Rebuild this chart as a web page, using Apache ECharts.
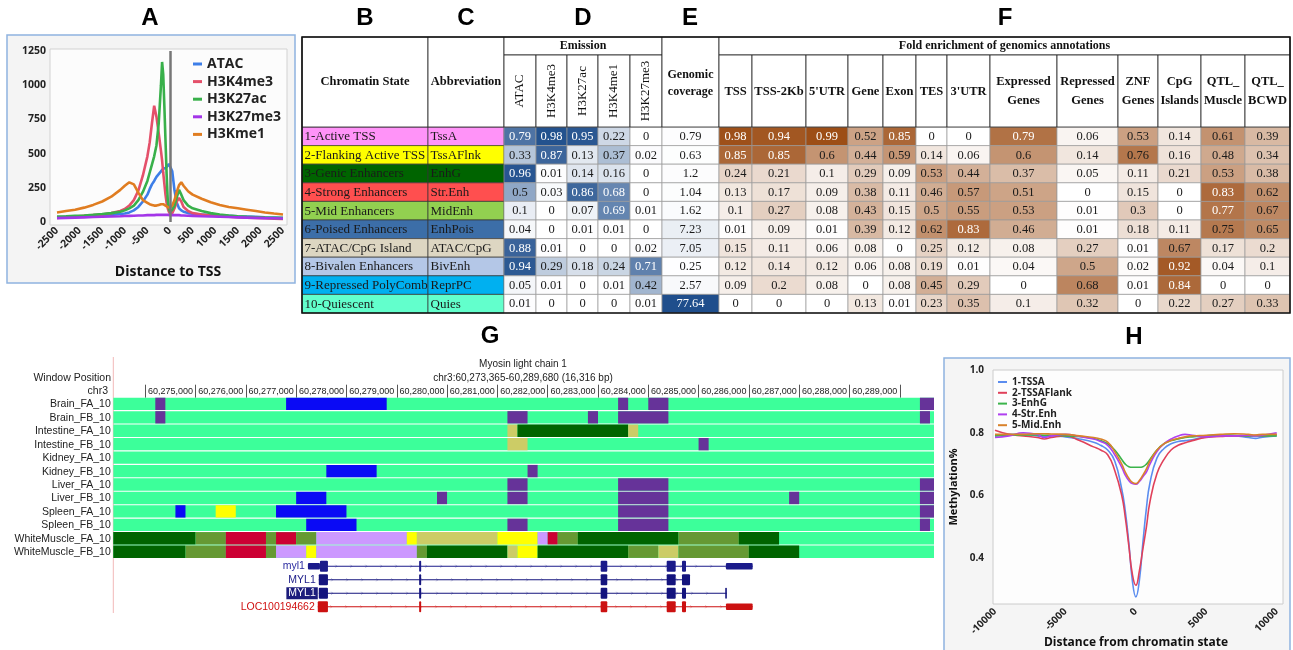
<!DOCTYPE html>
<html>
<head>
<meta charset="utf-8">
<title>Chromatin states</title>
<script src="https://cdn.jsdelivr.net/npm/echarts@6.0.0/dist/echarts.min.js"></script>
<style>
html,body{margin:0;padding:0;background:#ffffff;}
#chart{width:1293px;height:650px;}
</style>
</head>
<body>
<div id="chart"></div>
<script>
// ================= Panel A : signal around TSS =================
const posA = [-2500,-2300,-2100,-1900,-1700,-1500,-1300,-1100,-1000,-900,-800,-700,-600,-500,-450,-400,-350,-300,-250,-200,-175,-150,-125,-100,-75,-50,-25,0,50,100,150,200,250,300,400,500,700,900,1100,1300,1500,1700,1900,2100,2300,2500];
const atacA = [35,38,40,42,45,48,52,58,62,70,85,110,150,200,240,275,300,330,350,370,380,390,392,395,400,410,425,430,370,230,140,100,85,75,65,60,55,50,48,45,42,40,38,35,33,30];
const h3k4me3A = [30,35,40,45,50,55,65,80,95,120,160,230,340,480,580,720,850,770,650,520,450,360,280,200,140,100,75,60,65,100,150,175,150,110,80,65,55,48,42,38,35,32,30,28,25,22];
const h3k27acA = [40,42,45,48,52,58,65,75,85,100,120,160,220,300,360,420,480,560,720,1000,1170,1080,850,600,350,160,100,75,90,120,180,235,200,160,120,100,80,65,55,48,42,38,35,32,30,28];
const h3k27me3A = [28,30,32,34,36,38,40,42,44,45,46,47,48,50,50,50,50,52,52,52,52,52,52,52,52,52,50,50,50,50,50,50,48,48,46,45,42,40,38,36,34,32,30,28,27,26];
const h3kme1A = [70,80,90,105,125,150,185,235,265,290,275,215,160,140,130,125,120,120,125,130,130,130,125,120,115,110,105,105,120,160,220,270,290,265,225,200,170,145,125,110,100,90,80,70,62,55];
const namesA = ['ATAC','H3K4me3','H3K27ac','H3K27me3','H3Kme1'];

// ================= Panels B-F : chromatin state table =================
const states = ['1-Active TSS','2-Flanking Active TSS','3-Genic Enhancers','4-Strong Enhancers','5-Mid Enhancers','6-Poised Enhancers','7-ATAC/CpG Island','8-Bivalen Enhancers','9-Repressed PolyComb','10-Quiescent'];
const abbrevs = ['TssA','TssAFlnk','EnhG','Str.Enh','MidEnh','EnhPois','ATAC/CpG','BivEnh','ReprPC','Quies'];
const emissionMarks = ['ATAC','H3K4me3','H3K27ac','H3K4me1','H3K27me3'];
const emATAC = [0.79,0.33,0.96,0.5,0.1,0.04,0.88,0.94,0.05,0.01];
const emH3K4me3 = [0.98,0.87,0.01,0.03,0,0,0.01,0.29,0.01,0];
const emH3K27ac = [0.95,0.13,0.14,0.86,0.07,0.01,0,0.18,0,0];
const emH3K4me1 = [0.22,0.37,0.16,0.68,0.69,0.01,0,0.24,0.01,0];
const emH3K27me3 = [0,0.02,0,0,0.01,0,0.02,0.71,0.42,0.01];
const genomicCoverage = [0.79,0.63,1.2,1.04,1.62,7.23,7.05,0.25,2.57,77.64];
const annotNames = ['TSS','TSS-2Kb',"5'UTR",'Gene','Exon','TES',"3'UTR",'Expressed\nGenes','Repressed\nGenes','ZNF\nGenes','CpG\nIslands','QTL_\nMuscle','QTL_\nBCWD'];
const feTSS = [0.98,0.85,0.24,0.13,0.1,0.01,0.15,0.12,0.09,0];
const feTSS2Kb = [0.94,0.85,0.21,0.17,0.27,0.09,0.11,0.14,0.2,0];
const fe5UTR = [0.99,0.6,0.1,0.09,0.08,0.01,0.06,0.12,0.08,0];
const feGene = [0.52,0.44,0.29,0.38,0.43,0.39,0.08,0.06,0,0.13];
const feExon = [0.85,0.59,0.09,0.11,0.15,0.12,0,0.08,0.08,0.01];
const feTES = [0,0.14,0.53,0.46,0.5,0.62,0.25,0.19,0.45,0.23];
const fe3UTR = [0,0.06,0.44,0.57,0.55,0.83,0.12,0.01,0.29,0.35];
const feExpressed = [0.79,0.6,0.37,0.51,0.53,0.46,0.08,0.04,0,0.1];
const feRepressed = [0.06,0.14,0.05,0,0.01,0.01,0.27,0.5,0.68,0.32];
const feZNF = [0.53,0.76,0.11,0.15,0.3,0.18,0.01,0.02,0.01,0];
const feCpG = [0.14,0.16,0.21,0,0,0.11,0.67,0.92,0.84,0.22];
const feQTLMuscle = [0.61,0.48,0.53,0.83,0.77,0.75,0.17,0.04,0,0.27];
const feQTLBCWD = [0.39,0.34,0.38,0.62,0.67,0.65,0.2,0.1,0,0.33];

// ================= Panel G : genome browser =================
const gWindow = [60273365, 60289680];
const gTickValues = [60274000,60275000,60276000,60277000,60278000,60279000,60280000,60281000,60282000,60283000,60284000,60285000,60286000,60287000,60288000,60289000];
const gLabelValues = [60275000,60276000,60277000,60278000,60279000,60280000,60281000,60282000,60283000,60284000,60285000,60286000,60287000,60288000,60289000];
const trackNames = ['Brain_FA_10','Brain_FB_10','Intestine_FA_10','Intestine_FB_10','Kidney_FA_10','Kidney_FB_10','Liver_FA_10','Liver_FB_10','Spleen_FA_10','Spleen_FB_10','WhiteMuscle_FA_10','WhiteMuscle_FB_10'];
// segment = [start, end, state] ; states: P purple, B blue, Y yellow, D dark green, O olive, R red, L lavender, K khaki (background = quiescent)
const trackBrainFA = [[60274200,60274400,'P'],[60276800,60278800,'B'],[60283400,60283600,'P'],[60284000,60284400,'P'],[60289400,60289680,'P']];
const trackBrainFB = [[60274200,60274400,'P'],[60281200,60281600,'P'],[60282800,60283000,'P'],[60283400,60284400,'P'],[60289400,60289600,'P']];
const trackIntestineFA = [[60281200,60281400,'K'],[60281400,60283600,'D'],[60283600,60283800,'K']];
const trackIntestineFB = [[60281200,60281600,'K'],[60285000,60285200,'P']];
const trackKidneyFA = [];
const trackKidneyFB = [[60277600,60278600,'B'],[60281600,60281800,'P']];
const trackLiverFA = [[60281200,60281600,'P'],[60283400,60284400,'P'],[60289400,60289680,'P']];
const trackLiverFB = [[60277000,60277600,'B'],[60279800,60280000,'P'],[60281200,60281600,'P'],[60283400,60284400,'P'],[60286800,60287000,'P'],[60289400,60289680,'P']];
const trackSpleenFA = [[60274600,60274800,'B'],[60275400,60275800,'Y'],[60276600,60278000,'B'],[60283400,60284400,'P'],[60289400,60289680,'P']];
const trackSpleenFB = [[60277200,60278200,'B'],[60281200,60281600,'P'],[60283400,60284400,'P'],[60289400,60289600,'P']];
const trackMuscleFA = [[60273365,60275000,'D'],[60275000,60275600,'O'],[60275600,60276400,'R'],[60276400,60276600,'O'],[60276600,60277000,'R'],[60277000,60277400,'O'],[60277400,60279200,'L'],[60279200,60279400,'Y'],[60279400,60281000,'K'],[60281000,60281800,'Y'],[60281800,60282000,'L'],[60282000,60282200,'R'],[60282200,60282600,'O'],[60282600,60284600,'D'],[60284600,60285800,'O'],[60285800,60286600,'D']];
const trackMuscleFB = [[60273365,60274800,'D'],[60274800,60275600,'O'],[60275600,60276400,'R'],[60276400,60276600,'O'],[60276600,60277200,'L'],[60277200,60277400,'Y'],[60277400,60279400,'L'],[60279400,60279600,'O'],[60279600,60281200,'D'],[60281200,60281400,'K'],[60281400,60281800,'Y'],[60281800,60283600,'D'],[60283600,60284200,'O'],[60284200,60284600,'K'],[60284600,60286000,'O'],[60286000,60287000,'D']];
const txNames = ['myl1','MYL1','MYL1','LOC100194662'];
const txStart = [60277234,60277450,60277450,60277430];
const txEnd = [60286075,60284830,60285560,60286075];
// exon = [start, end, coding(1)/utr(0)]
const txExonsMyl1 = [[60277234,60277473,0],[60277473,60277632,1],[60279445,60279485,1],[60283054,60283185,1],[60284366,60284545,1],[60284670,60284750,1],[60285544,60286075,0]];
const txExonsMYL1a = [[60277450,60277632,1],[60279445,60279485,1],[60283054,60283185,1],[60284366,60284545,1],[60284670,60284830,1]];
const txExonsMYL1b = [[60277450,60277632,1],[60279445,60279485,1],[60283054,60283185,1],[60284366,60284545,1],[60284670,60284750,1],[60285530,60285560,1]];
const txExonsLOC = [[60277430,60277632,1],[60279445,60279485,1],[60283054,60283185,1],[60284366,60284545,1],[60284670,60284750,1],[60285544,60286075,0]];

// ================= Panel H : methylation around states =================
const posH = [-10000,-9000,-8000,-7000,-6500,-6000,-5000,-4000,-3000,-2500,-2000,-1500,-1000,-750,-500,-250,0,250,500,750,1000,1500,2000,2500,3000,3500,4000,5000,6000,7000,8000,8500,9000,10000];
const tssaH = [0.790,0.795,0.795,0.790,0.788,0.790,0.787,0.780,0.770,0.760,0.745,0.710,0.620,0.550,0.450,0.330,0.277,0.330,0.450,0.560,0.640,0.720,0.750,0.765,0.772,0.775,0.778,0.787,0.790,0.790,0.785,0.782,0.786,0.790];
const tssaFlankH = [0.808,0.795,0.790,0.785,0.780,0.785,0.790,0.775,0.755,0.745,0.730,0.680,0.600,0.530,0.440,0.350,0.314,0.360,0.430,0.500,0.580,0.670,0.715,0.745,0.760,0.768,0.775,0.785,0.788,0.790,0.790,0.792,0.790,0.795];
const enhGH = [0.790,0.792,0.793,0.793,0.792,0.792,0.790,0.788,0.782,0.775,0.765,0.745,0.715,0.700,0.692,0.690,0.690,0.690,0.692,0.700,0.715,0.745,0.765,0.775,0.780,0.785,0.787,0.790,0.793,0.792,0.790,0.790,0.790,0.790];
const strEnhH = [0.785,0.790,0.800,0.795,0.785,0.790,0.795,0.788,0.780,0.772,0.760,0.730,0.690,0.665,0.648,0.638,0.636,0.645,0.660,0.675,0.700,0.740,0.765,0.780,0.790,0.795,0.792,0.787,0.790,0.790,0.792,0.790,0.792,0.800];
const midEnhH = [0.795,0.795,0.795,0.797,0.797,0.796,0.795,0.790,0.785,0.780,0.770,0.740,0.700,0.675,0.655,0.642,0.638,0.648,0.665,0.685,0.710,0.745,0.765,0.775,0.782,0.787,0.790,0.792,0.795,0.797,0.795,0.793,0.795,0.795];
const namesH = ['1-TSSA','2-TSSAFlank','3-EnhG','4-Str.Enh','5-Mid.Enh'];
const hTicksX = [-10000,-5000,0,5000,10000];
const hTicksY = [0.4,0.6,0.8,1.0];

// ================= styling / layout =================
const colorsA = ['#3d7ee8','#e4506a','#38b04a','#a335e8','#e07d21'];
const colorsH = ['#5b8def','#e0405a','#3cb44b','#b040f0','#d9822b'];
const stateColors = ['#ff93f8','#ffff00','#006400','#ff4f4f','#92d050','#3c6ea8','#ddd6c2','#b4c7e7','#00b0f0','#62ffcc'];
const gStateColors = {Q:'#3cff9a',P:'#663399',B:'#0a0af5',Y:'#ffff00',D:'#006400',O:'#669933',R:'#cc0033',L:'#cc99ff',K:'#cccc66'};
const gStateCodes = ['Q','P','B','Y','D','O','R','L','K'];
const blueEnd = [31,78,140];
const brownEnd = [156,76,20];
const colEdges = [0,126,202,234,265,296,328,360,417,450,504,546,581,614,645,688,755,816,856,899,943,988];
const T_LEFT = 302, T_TOP = 37, T_MID = 55, T_BODY = 127, T_BOTTOM = 313;
const SERIF = '"Liberation Serif","DejaVu Serif",serif';
const SANS = '"Liberation Sans",Arial,sans-serif';
const OPEN = '"Open Sans","Liberation Sans",sans-serif';

function mixColor(end, t){
  t = Math.max(0, Math.min(1, t));
  const r = Math.round(255 + (end[0]-255)*t), g = Math.round(255 + (end[1]-255)*t), b = Math.round(255 + (end[2]-255)*t);
  return 'rgb(' + r + ',' + g + ',' + b + ')';
}

const emissionCols = [emATAC, emH3K4me3, emH3K27ac, emH3K4me1, emH3K27me3];
const foldCols = [feTSS, feTSS2Kb, fe5UTR, feGene, feExon, feTES, fe3UTR, feExpressed, feRepressed, feZNF, feCpG, feQTLMuscle, feQTLBCWD];
const tableValues = [states, abbrevs].concat(emissionCols, [genomicCoverage], foldCols);
const tableKinds = ['label','label'].concat(emissionCols.map(()=> 'emis'), ['cov'], foldCols.map(()=> 'fold'));
const covMax = Math.max.apply(null, genomicCoverage);
const tableData = [];
for (let c = 0; c < tableValues.length; c++) for (let r = 0; r < states.length; r++) tableData.push([c, r]);

function renderTable(params, api){
  const c = api.value(0), r = api.value(1);
  const kind = tableKinds[c];
  const v = tableValues[c][r];
  const pL = api.coord([colEdges[c], r]);
  const pR = api.coord([colEdges[c+1], r]);
  const h = api.size([0, 1])[1];
  let fill = '#ffffff', color = '#1a1a1a', align = 'center', tx = (pL[0]+pR[0])/2;
  let font = '12.5px ' + SERIF, stroke = '#9a9a9a';
  if (kind === 'label') { fill = stateColors[r]; align = 'left'; tx = pL[0] + 2.5; font = '13px ' + SERIF; stroke = '#333'; }
  else if (kind === 'emis') { fill = mixColor(blueEnd, v); if (v >= 0.6) color = '#ffffff'; }
  else if (kind === 'cov') { const t = v / covMax; fill = mixColor(blueEnd, t); if (t >= 0.6) color = '#ffffff'; }
  else { fill = mixColor(brownEnd, v); if (v >= 0.765) color = '#ffffff'; }
  return {type:'group', children:[
    {type:'rect', shape:{x:pL[0], y:pL[1]-h/2, width:pR[0]-pL[0], height:h}, style:{fill:fill, stroke:stroke, lineWidth:0.7}},
    {type:'text', x:tx, y:pL[1]+0.5, style:{text:String(v), textAlign:align, align:align, textVerticalAlign:'middle', verticalAlign:'middle', font:font, fill:color}}
  ]};
}

// ---- tracks ----
const trackSegs = [trackBrainFA, trackBrainFB, trackIntestineFA, trackIntestineFB, trackKidneyFA, trackKidneyFB, trackLiverFA, trackLiverFB, trackSpleenFA, trackSpleenFB, trackMuscleFA, trackMuscleFB];
const trackData = [];
trackSegs.forEach(function(segs, t){
  trackData.push([gWindow[0], gWindow[1], t, 0]);
  segs.forEach(function(s){ trackData.push([s[0], s[1], t, gStateCodes.indexOf(s[2])]); });
});
function renderTrack(params, api){
  const s = api.value(0), e = api.value(1), t = api.value(2), k = api.value(3);
  const p0 = api.coord([s, t]), p1 = api.coord([e, t]);
  const h = api.size([0, 1])[1];
  return {type:'rect', shape:{x:p0[0], y:p0[1]-h/2, width:p1[0]-p0[0], height:h-1.1}, style:{fill:gStateColors[gStateCodes[k]]}};
}

// ---- genes ----
const txExons = [txExonsMyl1, txExonsMYL1a, txExonsMYL1b, txExonsLOC];
const txColors = ['#1b1b8a','#14147e','#14147e','#cc1111'];
const txLabelColors = ['#2a2aa0','#1c1c88','#ffffff','#d01010'];
const geneData = txNames.map(function(n, i){ return [txStart[i], txEnd[i], i]; });
function renderGene(params, api){
  const i = api.value(2);
  const a = api.coord([txStart[i], i]);
  const b = api.coord([txEnd[i], i]);
  const y = a[1];
  const col = txColors[i];
  const children = [];
  children.push({type:'line', shape:{x1:a[0], y1:y, x2:b[0], y2:y}, style:{stroke:col, lineWidth:1}});
  for (let x = a[0] + 14; x < b[0] - 6; x += 15) {
    children.push({type:'polyline', shape:{points:[[x-1.5, y-1.5],[x, y],[x-1.5, y+1.5]]}, style:{stroke:col, lineWidth:0.6, fill:null, opacity:0.5}});
  }
  txExons[i].forEach(function(ex){
    const p0 = api.coord([ex[0], i])[0], p1 = api.coord([ex[1], i])[0];
    const hh = ex[2] === 1 ? 11 : 6.5;
    children.push({type:'rect', shape:{x:p0, y:y-hh/2, width:Math.max(1.6, p1-p0), height:hh, r:1}, style:{fill:col}});
  });
  const lbl = {type:'text', x:a[0]-3, y:y, style:{text:txNames[i], textAlign:'right', align:'right', textVerticalAlign:'middle', verticalAlign:'middle', font:'10.5px ' + SANS, fill:txLabelColors[i]}};
  if (i === 2) { lbl.style.backgroundColor = '#1c1c7c'; lbl.style.padding = [1,2,0,2]; lbl.x = a[0]-1; }
  children.push(lbl);
  return {type:'group', children:children};
}

// ---- graphic decorations (panel frames, headers, titles) ----
const gfx = [];
function txt(x, y, text, font, opts){
  const o = opts || {};
  return {type:'text', x:x, y:y, z:o.z || 20, rotation:o.rotation || 0,
    style:{text:text, font:font, fill:o.fill || '#111', textAlign:o.align || 'center', align:o.align || 'center', textVerticalAlign:'middle', verticalAlign:'middle'}};
}
// Panel A frame
gfx.push({type:'rect', z:0, shape:{x:7, y:35, width:288, height:248}, style:{fill:'#f4f4f4', stroke:'#8fb3e0', lineWidth:1.5}});
gfx.push({type:'rect', z:0, shape:{x:50, y:49, width:237, height:176}, style:{fill:'#fcfcfc', stroke:'#d2d2d2', lineWidth:1}});
gfx.push(txt(168, 272, 'Distance to TSS', 'bold 14px ' + OPEN));
// Panel H frame
gfx.push({type:'rect', z:0, shape:{x:944, y:358, width:346, height:300}, style:{fill:'#f5f5f5', stroke:'#8fb3e0', lineWidth:1.5}});
gfx.push({type:'rect', z:0, shape:{x:993, y:370, width:290, height:234}, style:{fill:'#fdfdfd', stroke:'#cccccc', lineWidth:1}});
gfx.push(txt(1136, 643, 'Distance from chromatin state', 'bold 12px ' + OPEN));
gfx.push(txt(954, 487, 'Methylation%', 'bold 11px ' + OPEN, {rotation:Math.PI/2}));
// Panel letters
[['A',150,18],['B',365,18],['C',466,18],['D',583,18],['E',690,18],['F',1005,18],['G',490,336],['H',1134,337]].forEach(function(L){
  gfx.push(txt(L[1], L[2], L[0], 'bold 24px ' + SANS, {fill:'#000'}));
});
// Table headers
const X = function(i){ return T_LEFT + colEdges[i]; };
function hcell(x0, y0, x1, y1){ return {type:'rect', z:5, shape:{x:x0, y:y0, width:x1-x0, height:y1-y0}, style:{fill:'#ffffff', stroke:'#222', lineWidth:0.8}}; }
gfx.push(hcell(X(0), T_TOP, X(1), T_BODY));
gfx.push(txt((X(0)+X(1))/2, 82, 'Chromatin State', 'bold 12.5px ' + SERIF));
gfx.push(hcell(X(1), T_TOP, X(2), T_BODY));
gfx.push(txt((X(1)+X(2))/2, 82, 'Abbreviation', 'bold 12.5px ' + SERIF));
gfx.push(hcell(X(2), T_TOP, X(7), T_MID));
gfx.push(txt((X(2)+X(7))/2, 46, 'Emission', 'bold 12px ' + SERIF));
emissionMarks.forEach(function(m, k){
  gfx.push(hcell(X(2+k), T_MID, X(3+k), T_BODY));
  gfx.push(txt((X(2+k)+X(3+k))/2, 91, m, '13px ' + SERIF, {rotation:Math.PI/2}));
});
gfx.push(hcell(X(7), T_TOP, X(8), T_BODY));
gfx.push(txt((X(7)+X(8))/2, 75, 'Genomic', 'bold 12px ' + SERIF));
gfx.push(txt((X(7)+X(8))/2, 92, 'coverage', 'bold 12px ' + SERIF));
gfx.push(hcell(X(8), T_TOP, X(21), T_MID));
gfx.push(txt((X(8)+X(21))/2, 46, 'Fold enrichment of genomics annotations', 'bold 12px ' + SERIF));
annotNames.forEach(function(n, k){
  gfx.push(hcell(X(8+k), T_MID, X(9+k), T_BODY));
  const parts = n.split('\n');
  const cx = (X(8+k)+X(9+k))/2;
  if (parts.length === 1) gfx.push(txt(cx, 92, parts[0], 'bold 12.5px ' + SERIF));
  else { gfx.push(txt(cx, 82, parts[0], 'bold 12.5px ' + SERIF)); gfx.push(txt(cx, 100.5, parts[1], 'bold 12.5px ' + SERIF)); }
});
gfx.push({type:'rect', z:30, shape:{x:T_LEFT, y:T_TOP, width:colEdges[21], height:T_BOTTOM-T_TOP}, style:{fill:null, stroke:'#111', lineWidth:1.6}});
// Panel G texts
gfx.push(txt(111, 378, 'Window Position', '10.5px ' + SANS, {align:'right', fill:'#222'}));
gfx.push(txt(108, 391, 'chr3', '10.5px ' + SANS, {align:'right', fill:'#222'}));
gfx.push(txt(523, 364, 'Myosin light chain 1', '10px ' + SANS, {fill:'#222'}));
gfx.push(txt(523, 378, 'chr3:60,273,365-60,289,680 (16,316 bp)', '10px ' + SANS, {fill:'#222'}));
gfx.push({type:'line', z:1, shape:{x1:113.3, y1:357, x2:113.3, y2:613}, style:{stroke:'#f2b8b8', lineWidth:1}});

function commas(v){ return String(Math.round(v)).replace(/\B(?=(\d{3})+(?!\d))/g, ','); }
function plain(v){ return String(v); }
const boldLbl = {fontFamily: OPEN, fontWeight:'bold', color:'#222'};

const option = {
  animation: false,
  backgroundColor: '#ffffff',
  textStyle: {fontFamily: OPEN},
  graphic: {elements: gfx},
  legend: [
    {data: namesA, left: 188, top: 52, orient: 'vertical', itemGap: 3.6, itemWidth: 9, itemHeight: 3, icon: 'rect',
     textStyle: {fontSize: 14, fontWeight: 'bold', color: '#222', fontFamily: OPEN}},
    {data: namesH, left: 993, top: 372, orient: 'vertical', itemGap: 0.8, itemWidth: 9, itemHeight: 2, icon: 'rect',
     textStyle: {fontSize: 10, fontWeight: 'bold', color: '#222', fontFamily: OPEN}}
  ],
  grid: [
    {left: 57, top: 51, width: 226, height: 171},
    {left: T_LEFT, top: T_BODY, width: colEdges[21], height: T_BOTTOM - T_BODY},
    {left: 113.3, top: 397.7, width: 820.7, height: 161.3},
    {left: 113.3, top: 559.5, width: 820.7, height: 54},
    {left: 993, top: 370, width: 290, height: 234}
  ],
  xAxis: [
    {gridIndex: 0, type: 'value', min: -2500, max: 2500, interval: 500, axisLine: {show: false}, axisTick: {show: false}, splitLine: {show: false},
     axisLabel: Object.assign({rotate: 45, fontSize: 10.5, margin: 7, formatter: plain}, boldLbl)},
    {gridIndex: 1, type: 'value', min: 0, max: colEdges[21], show: false},
    {gridIndex: 2, type: 'value', position: 'top', min: gWindow[0], max: gWindow[1], axisLine: {show: false}, splitLine: {show: false},
     axisTick: {show: true, customValues: gTickValues, length: 13, lineStyle: {color: '#555', width: 1}},
     axisLabel: {customValues: gLabelValues, formatter: commas, align: 'right', verticalAlign: 'middle', margin: 6.5, padding: [0, 2.5, 0, 0], fontSize: 9, color: '#222', fontFamily: SANS}},
    {gridIndex: 3, type: 'value', min: gWindow[0], max: gWindow[1], show: false},
    {gridIndex: 4, type: 'value', min: -10142, max: 10447, axisLine: {show: false}, axisTick: {show: false}, splitLine: {show: false},
     axisLabel: Object.assign({customValues: hTicksX, rotate: 45, fontSize: 10, margin: 6, formatter: plain}, boldLbl)}
  ],
  yAxis: [
    {gridIndex: 0, type: 'value', min: 0, max: 1250, interval: 250, axisLine: {show: false}, axisTick: {show: false}, splitLine: {show: false},
     axisLabel: Object.assign({fontSize: 10.5, margin: 11, formatter: plain}, boldLbl)},
    {gridIndex: 1, type: 'category', data: states, inverse: true, show: false},
    {gridIndex: 2, type: 'category', data: trackNames, inverse: true, axisLine: {show: false}, axisTick: {show: false},
     axisLabel: {interval: 0, fontSize: 10.5, color: '#222', margin: 2.5, fontFamily: SANS}},
    {gridIndex: 3, type: 'category', data: txNames.map(function(n, i){ return n + i; }), inverse: true, show: false},
    {gridIndex: 4, type: 'value', min: 0.2544, max: 1.0, axisLine: {show: false}, axisTick: {show: false}, splitLine: {show: false},
     axisLabel: Object.assign({customValues: hTicksY, fontSize: 10, margin: 9, formatter: function(v){ return v.toFixed(1); }}, boldLbl)}
  ],
  series: [
    {name: 'ATAC', type: 'line', xAxisIndex: 0, yAxisIndex: 0, showSymbol: false, color: colorsA[0], lineStyle: {width: 2.6},
     data: posA.map(function(x, i){ return [x, atacA[i]]; }),
     markLine: {silent: true, symbol: ['none', 'none'], label: {show: false}, lineStyle: {color: '#777', width: 2.5, type: 'solid'}, data: [{xAxis: 0}]}},
    {name: 'H3K4me3', type: 'line', xAxisIndex: 0, yAxisIndex: 0, showSymbol: false, color: colorsA[1], lineStyle: {width: 2.6},
     data: posA.map(function(x, i){ return [x, h3k4me3A[i]]; })},
    {name: 'H3K27ac', type: 'line', xAxisIndex: 0, yAxisIndex: 0, showSymbol: false, color: colorsA[2], lineStyle: {width: 2.6},
     data: posA.map(function(x, i){ return [x, h3k27acA[i]]; })},
    {name: 'H3K27me3', type: 'line', xAxisIndex: 0, yAxisIndex: 0, showSymbol: false, color: colorsA[3], lineStyle: {width: 2.6}, z: 4,
     data: posA.map(function(x, i){ return [x, h3k27me3A[i]]; })},
    {name: 'H3Kme1', type: 'line', xAxisIndex: 0, yAxisIndex: 0, showSymbol: false, color: colorsA[4], lineStyle: {width: 2.6}, z: 3,
     data: posA.map(function(x, i){ return [x, h3kme1A[i]]; })},
    {name: 'table', type: 'custom', xAxisIndex: 1, yAxisIndex: 1, encode: {x: 0, y: 1}, renderItem: renderTable, data: tableData, z: 3},
    {name: 'tracks', type: 'custom', xAxisIndex: 2, yAxisIndex: 2, encode: {x: [0, 1], y: 2}, renderItem: renderTrack, data: trackData},
    {name: 'genes', type: 'custom', xAxisIndex: 3, yAxisIndex: 3, encode: {x: [0, 1], y: 2}, renderItem: renderGene, data: geneData},
    {name: namesH[0], type: 'line', xAxisIndex: 4, yAxisIndex: 4, showSymbol: false, smooth: true, color: colorsH[0], lineStyle: {width: 1.6},
     data: posH.map(function(x, i){ return [x, tssaH[i]]; })},
    {name: namesH[1], type: 'line', xAxisIndex: 4, yAxisIndex: 4, showSymbol: false, smooth: true, color: colorsH[1], lineStyle: {width: 1.6},
     data: posH.map(function(x, i){ return [x, tssaFlankH[i]]; })},
    {name: namesH[2], type: 'line', xAxisIndex: 4, yAxisIndex: 4, showSymbol: false, smooth: true, color: colorsH[2], lineStyle: {width: 1.6},
     data: posH.map(function(x, i){ return [x, enhGH[i]]; })},
    {name: namesH[3], type: 'line', xAxisIndex: 4, yAxisIndex: 4, showSymbol: false, smooth: true, color: colorsH[3], lineStyle: {width: 1.6},
     data: posH.map(function(x, i){ return [x, strEnhH[i]]; })},
    {name: namesH[4], type: 'line', xAxisIndex: 4, yAxisIndex: 4, showSymbol: false, smooth: true, color: colorsH[4], lineStyle: {width: 1.6},
     data: posH.map(function(x, i){ return [x, midEnhH[i]]; })}
  ]
};
const chart = echarts.init(document.getElementById('chart'), null, {renderer: 'canvas', width: 1293, height: 650});
chart.setOption(option);
</script>
</body>
</html>
